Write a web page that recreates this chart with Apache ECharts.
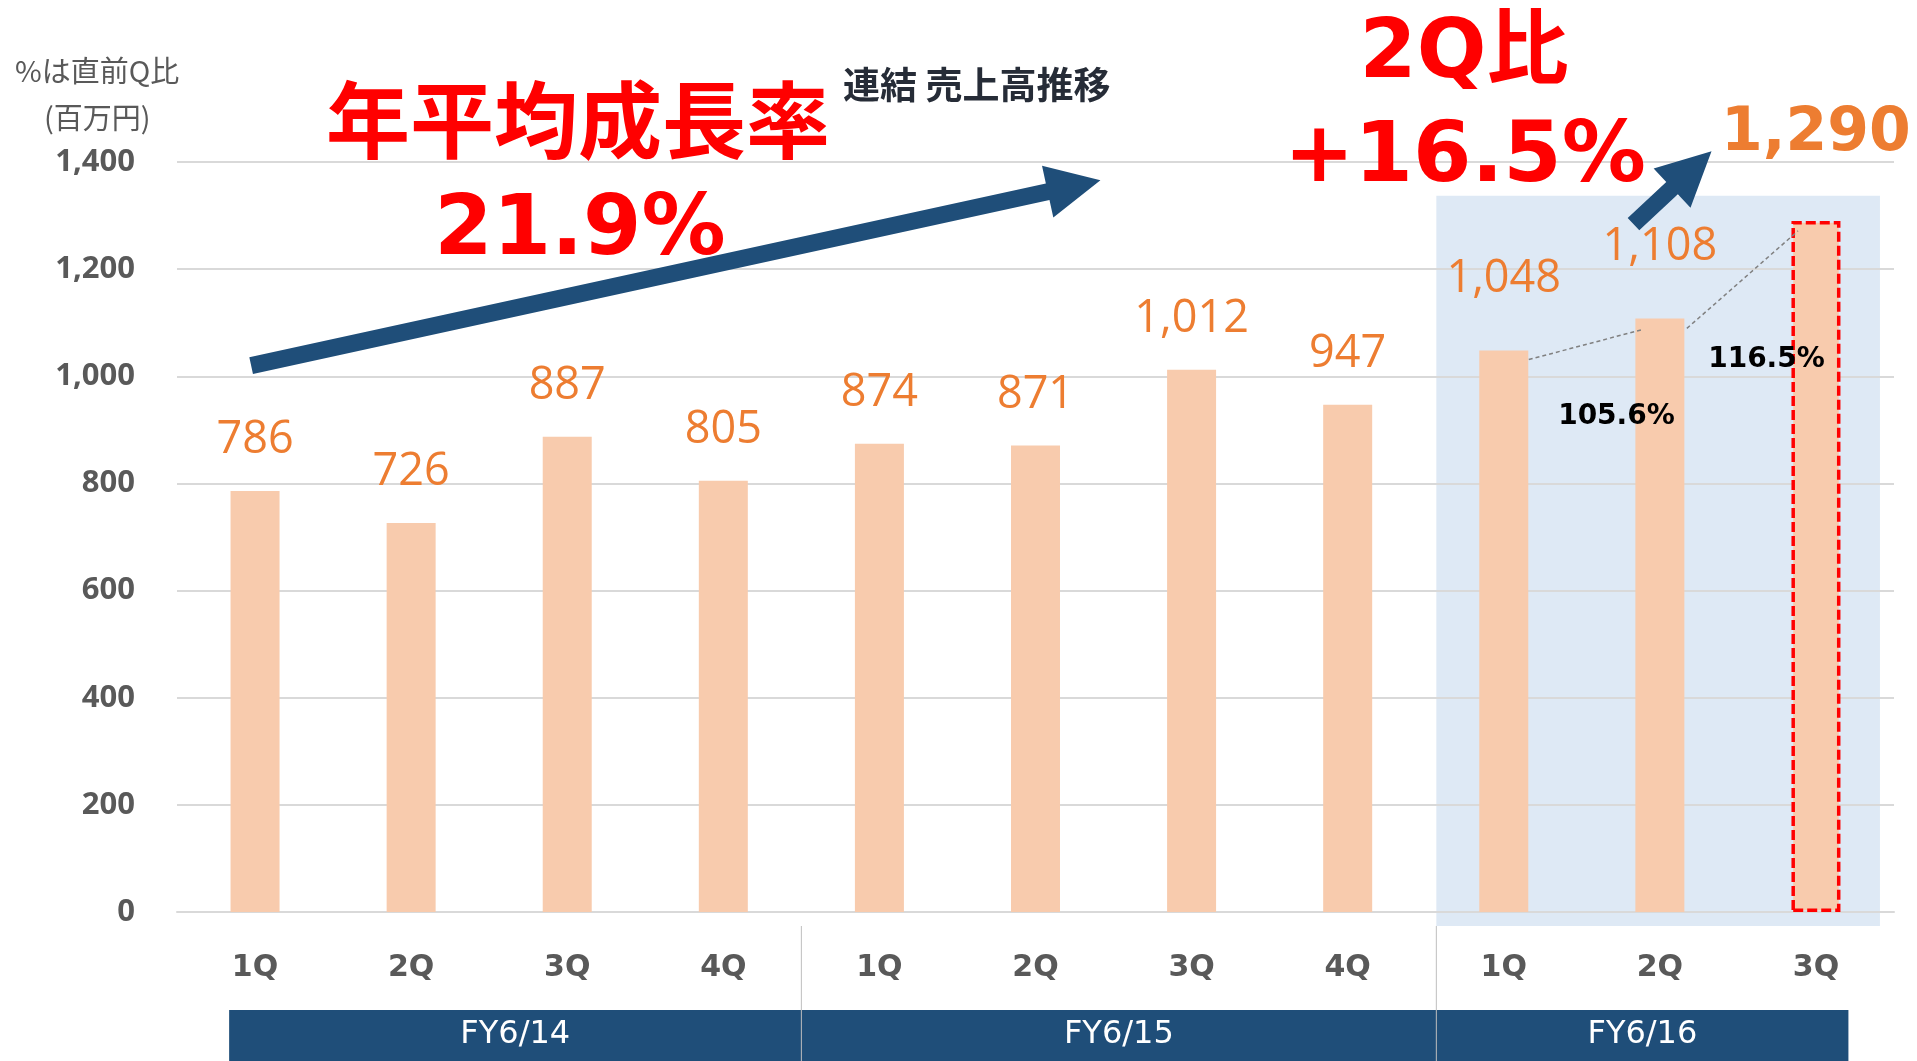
<!DOCTYPE html>
<html><head><meta charset="utf-8">
<script src="https://cdn.jsdelivr.net/npm/echarts@6/dist/echarts.min.js"></script>
<style>html,body{margin:0;padding:0;background:#fff}#c{width:1917px;height:1061px}</style>
</head><body><div id="c"></div>
<script>
// ---- data ----
const quarters = ['1Q','2Q','3Q','4Q','1Q','2Q','3Q','4Q','1Q','2Q','3Q'];
const sales = [786, 726, 887, 805, 874, 871, 1012, 947, 1048, 1108, 1290];
const fiscalYears = ['FY6/14', 'FY6/15', 'FY6/16'];
const fiscalYearIdx = [[0, 3], [4, 7], [8, 10]];
const qoqLabels = ['105.6%', '116.5%'];
const yMin = 0, yMax = 1400, yStep = 200;
const cagrTitle = '年平均成長率';
const cagrValue = '21.9%';
const qoqTitle = '2Q比';
const qoqValue = '+16.5%';

const ORANGE = '#ED7D31', PEACH = '#F8CBAD', NAVY = '#1F4E79', GRAY = '#595959';
const fmt = v => v.toLocaleString('en-US');

const barData = sales.map((v, i) => {
  const d = { value: v, label: { distance: 28 } };
  if (i === 8 || i === 9) d.label = { distance: 49 };
  if (i === sales.length - 1) {
    d.label = { distance: 57, fontSize: 60, fontWeight: 'bold', fontFamily: 'DejaVu Sans' };
    d.itemStyle = { borderColor: '#FF0000', borderWidth: 3.5, borderType: [10, 4] };
  }
  return d;
});

const chart = echarts.init(document.getElementById('c'));
chart.setOption({
  animation: false,
  backgroundColor: '#fff',
  grid: { left: 177, right: 23, top: 162, bottom: 149, containLabel: false },
  xAxis: {
    type: 'category', data: quarters,
    axisLine: { lineStyle: { color: '#D9D9D9', width: 2 } },
    axisTick: { show: false },
    axisLabel: { color: GRAY, fontSize: 30, fontWeight: 'bold', fontFamily: 'DejaVu Sans', margin: 41 }
  },
  yAxis: {
    type: 'value', min: yMin, max: yMax, interval: yStep,
    axisLine: { show: false }, axisTick: { show: false },
    splitLine: { lineStyle: { color: '#D9D9D9', width: 2 } },
    axisLabel: { color: GRAY, fontSize: 31, fontWeight: 'bold', fontFamily: 'Open Sans', margin: 42, formatter: v => fmt(v) }
  },
  series: [{
    type: 'bar', data: barData, barWidth: 49, z: 3,
    itemStyle: { color: PEACH },
    label: { show: true, position: 'top', color: ORANGE, fontSize: 45, fontFamily: 'Open Sans', formatter: p => fmt(p.value) }
  }]
});

// helpers from chart scales
function P(i, v) {
  const a = chart.convertToPixel({ gridIndex: 0 }, [0, v]);
  const b = chart.convertToPixel({ gridIndex: 0 }, [1, v]);
  return [a[0] + (b[0] - a[0]) * i, a[1]];
}
const y0 = P(0, 0)[1];
function arrow(t, h, w, hl, hw) {
  const dx = h[0] - t[0], dy = h[1] - t[1], L = Math.hypot(dx, dy);
  const ux = dx / L, uy = dy / L, nx = -uy, ny = ux;
  const bx = h[0] - ux * hl, by = h[1] - uy * hl;
  return [
    [t[0] + nx * w / 2, t[1] + ny * w / 2], [bx + nx * w / 2, by + ny * w / 2], [bx + nx * hw / 2, by + ny * hw / 2],
    h, [bx - nx * hw / 2, by - ny * hw / 2], [bx - nx * w / 2, by - ny * w / 2], [t[0] - nx * w / 2, t[1] - ny * w / 2]
  ];
}
function txt(x, y, text, size, color, weight, family, align) {
  return { type: 'text', x: x, y: y, z: 100,
    style: { text: text, fill: color, fontSize: size, fontWeight: weight || 'normal',
      fontFamily: family || 'Noto Sans CJK JP', align: align || 'center', verticalAlign: 'middle',
      textAlign: align || 'center', textVerticalAlign: 'middle' } };
}

const els = [];
// FY6/16 shading
const shL = P(7.568, 0)[0], shR = P(10.41, 0)[0], shT = P(0, 1337)[1], shB = y0 + 14;
els.push({ type: 'rect', z: -5, shape: { x: shL, y: shT, width: shR - shL, height: shB - shT }, style: { fill: '#DEE9F5' } });

// fiscal-year boxes and separators
const boxL = P(-0.166, 0)[0], boxR = P(10.208, 0)[0], boxT = y0 + 98;
const seps = [P(3.5, 0)[0], shL];
els.push({ type: 'rect', z: 50, shape: { x: boxL, y: boxT, width: boxR - boxL, height: 1061 - boxT }, style: { fill: NAVY } });
seps.forEach(x => els.push({ type: 'line', z: 51, shape: { x1: x, y1: y0 + 14, x2: x, y2: 1061 }, style: { stroke: '#BFBFBF', lineWidth: 1 } }));
const edges = [boxL, seps[0], seps[1], boxR];
fiscalYears.forEach((fy, k) => els.push(txt((edges[k] + edges[k + 1]) / 2, boxT + 25, fy, 32, '#FFFFFF', 'normal', 'DejaVu Sans')));

// leader lines between FY6/16 bars
const t8 = P(8, sales[8]), t9 = P(9, sales[9]), t10 = P(10, sales[10]);
els.push({ type: 'line', z: 60, shape: { x1: t8[0] + 25, y1: t8[1] + 9, x2: t9[0] - 17, y2: t9[1] + 11 }, style: { stroke: '#808080', lineWidth: 1.5, lineDash: [4, 3] } });
els.push({ type: 'line', z: 60, shape: { x1: t9[0] + 27, y1: t9[1] + 10, x2: t10[0] - 18, y2: t10[1] + 10 }, style: { stroke: '#808080', lineWidth: 1.5, lineDash: [4, 3] } });
// ratio labels
const r1 = P(8.722, 925), r2 = P(9.683, 1030);
els.push(txt(r1[0], r1[1], qoqLabels[0], 28, '#000000', 'bold', 'DejaVu Sans'));
els.push(txt(r2[0], r2[1], qoqLabels[1], 28, '#000000', 'bold', 'DejaVu Sans'));

// arrows
els.push({ type: 'polygon', z: 70, shape: { points: arrow(P(-0.025, 1020), P(5.416, 1366), 17, 54, 53) }, style: { fill: NAVY } });
els.push({ type: 'polygon', z: 70, shape: { points: arrow(P(8.831, 1284), P(9.331, 1420), 17, 54, 54) }, style: { fill: NAVY } });

// titles / annotations
els.push(txt(15, 71, '%は直前Q比', 29, GRAY, 'normal', 'Noto Sans CJK JP', 'left'));
els.push(txt(44, 118, '(百万円)', 29, GRAY, 'normal', 'Noto Sans CJK JP', 'left'));
els.push(txt(843, 85, '連結 売上高推移', 37, '#262C37', 'bold', 'Noto Sans CJK JP', 'left'));
els.push(txt(578, 120, cagrTitle, 84, '#FF0000', 'bold', 'Noto Sans CJK JP'));
els.push(txt(580, 232, cagrValue, 84, '#FF0000', 'bold', 'DejaVu Sans'));
els.push(txt(1464, 56, qoqTitle, 82, '#FF0000', 'bold', 'DejaVu Sans, Noto Sans CJK JP'));
els.push(txt(1465, 159, qoqValue, 84, '#FF0000', 'bold', 'DejaVu Sans'));

chart.setOption({ graphic: { elements: els } });
</script>
</body></html>
